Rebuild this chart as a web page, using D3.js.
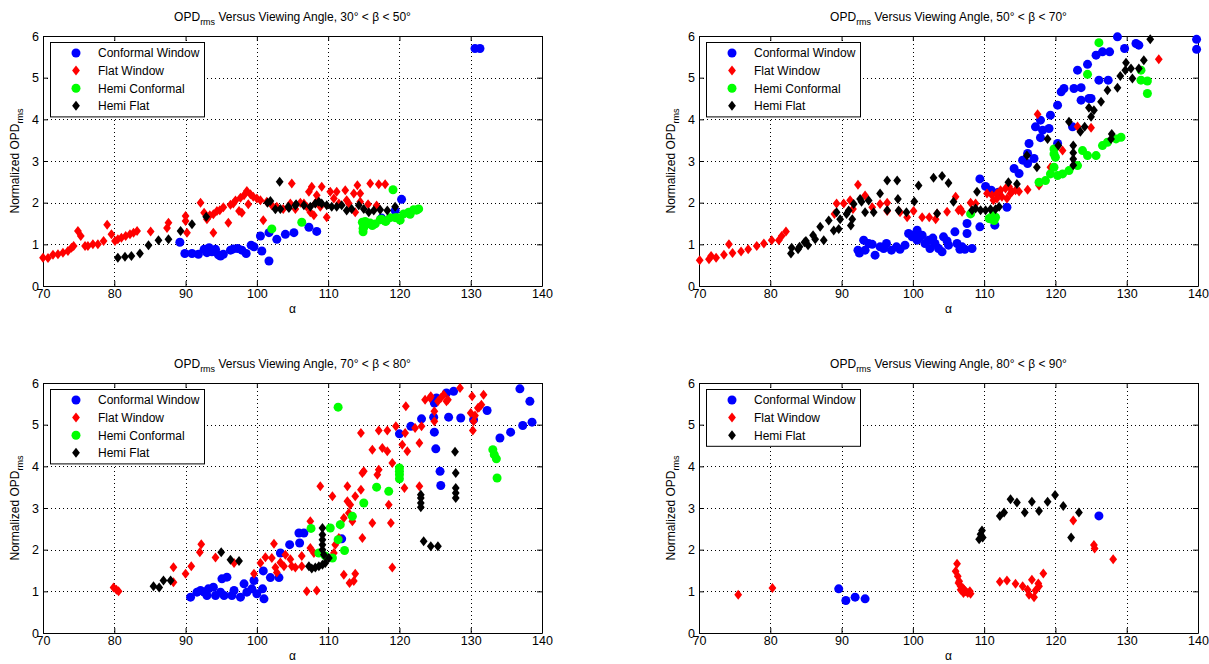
<!DOCTYPE html>
<html>
<head>
<meta charset="utf-8">
<script src="https://cdn.jsdelivr.net/npm/d3@7"></script>
<style>
html, body { margin: 0; padding: 0; background: #fff; }
svg { display: block; }
text { font-family: "Liberation Sans", Arial, Helvetica, sans-serif; fill: #000; }
</style>
</head>
<body>
<svg id="fig" width="1209" height="664"></svg>
<script>
// ---- axis ticks and labels ----
const alphaTicks = [70, 80, 90, 100, 110, 120, 130, 140];
const opdTicks = [0, 1, 2, 3, 4, 5, 6];
const seriesNames = ["Conformal Window", "Flat Window", "Hemi Conformal", "Hemi Flat"];
const betaRanges = ["30° < β < 50°", "50° < β < 70°", "70° < β < 80°", "80° < β < 90°"];

// ---- 30° < β < 50° : [alpha, normalized OPDrms] ----
const conf1 = [[89.2,1.05],[89.9,0.78],[90.9,0.78],[91.8,0.76],[92.6,0.88],[93.0,0.8],[93.3,0.92],[93.7,0.82],[94.2,0.88],[94.6,0.75],[94.9,0.72],[95.3,0.76],[96.3,0.86],[96.7,0.89],[97.3,0.9],[97.9,0.86],[98.5,0.78],[99.2,0.98],[99.6,0.94],[100.5,1.2],[100.7,0.84],[101.7,0.6],[101.7,1.28],[102.8,1.12],[104.0,1.24],[105.2,1.28],[107.3,1.41],[108.4,1.31],[117.5,1.63],[119.4,1.81],[120.3,2.08],[130.6,5.7],[131.3,5.7]];
const flat1 = [[70.0,0.68],[70.7,0.67],[71.4,0.75],[72.1,0.76],[72.8,0.8],[73.5,0.84],[74.0,0.92],[74.3,0.96],[74.9,1.32],[75.3,1.2],[75.9,0.96],[76.3,0.96],[77.0,1.0],[77.7,1.0],[78.5,1.08],[79.0,1.47],[79.6,1.24],[80.1,1.08],[80.5,1.12],[81.0,1.16],[81.6,1.2],[82.2,1.24],[82.7,1.28],[83.2,1.32],[85.1,1.31],[87.4,1.39],[87.6,1.52],[90.0,1.68],[90.0,1.56],[90.2,1.28],[92.1,2.0],[92.6,1.76],[93.0,1.6],[93.9,1.28],[93.4,1.7],[93.9,1.72],[94.4,1.8],[94.8,1.82],[95.3,1.89],[96.0,1.52],[96.3,1.95],[96.7,1.98],[97.0,2.05],[97.5,1.8],[97.7,2.12],[97.9,1.76],[98.2,2.18],[98.6,2.28],[98.8,1.96],[99.1,2.2],[99.5,2.14],[100.0,2.1],[100.5,2.06],[100.9,1.58],[101.4,2.02],[102.1,1.94],[102.8,1.9],[103.7,1.85],[104.9,2.46],[104.7,1.98],[105.4,1.85],[106.1,2.0],[106.6,1.98],[107.0,1.9],[107.3,2.26],[107.5,1.77],[107.7,2.38],[108.0,1.7],[108.2,1.98],[108.4,2.18],[108.5,2.05],[108.9,1.9],[109.1,2.38],[109.8,1.65],[110.3,2.26],[110.8,2.1],[111.2,2.26],[111.5,1.98],[112.4,2.3],[112.6,2.06],[112.9,1.98],[113.6,2.22],[113.8,1.77],[114.1,2.42],[114.5,2.22],[114.5,2.02],[115.6,1.96],[115.9,2.46],[116.8,1.93],[117.1,2.44],[118.0,2.44]];
const hemiConf1 = [[102.1,1.37],[106.3,1.53],[114.8,1.53],[114.9,1.3],[115.0,1.41],[114.9,1.38],[115.2,1.55],[115.5,1.49],[115.9,1.51],[116.2,1.45],[116.6,1.49],[117.3,1.59],[117.5,1.6],[118.0,1.56],[118.1,1.55],[118.7,1.64],[119.1,2.31],[119.4,1.64],[119.7,1.64],[120.1,1.58],[120.6,1.73],[121.3,1.77],[121.5,1.72],[122.0,1.83],[122.4,1.82],[122.7,1.85]];
const hemiFlat1 = [[80.5,0.68],[81.5,0.7],[82.4,0.72],[83.6,0.78],[84.8,0.98],[86.2,1.1],[87.6,1.12],[89.3,1.32],[90.9,1.48],[92.9,1.66],[101.5,2.0],[101.9,2.04],[103.2,2.5],[102.6,1.84],[103.3,1.85],[104.4,1.9],[104.5,1.87],[105.4,1.93],[105.5,1.96],[106.6,1.94],[107.5,1.9],[108.2,1.98],[108.7,2.02],[109.1,1.98],[109.8,1.94],[110.5,1.9],[111.2,1.9],[111.9,1.94],[112.6,1.81],[113.3,1.85],[114.3,1.94],[115.0,1.85],[115.7,1.77],[116.4,1.81],[117.3,1.83],[118.3,1.81],[119.4,1.9]];

// ---- 50° < β < 70° ----
const conf2 = [[92.3,0.86],[92.5,0.79],[93.1,1.1],[93.3,0.86],[93.8,1.02],[94.3,1.0],[94.7,0.74],[95.4,0.94],[95.9,0.9],[96.3,1.02],[97.0,0.86],[97.7,0.94],[98.2,0.88],[98.9,0.98],[99.4,1.26],[99.9,1.18],[100.1,1.22],[100.6,1.34],[100.6,1.1],[101.0,1.18],[101.3,1.22],[101.7,1.02],[102.2,1.1],[102.4,0.9],[102.8,1.15],[103.1,1.02],[103.6,0.9],[104.1,0.82],[104.3,1.18],[104.8,1.08],[105.0,0.98],[105.9,1.3],[106.2,1.02],[106.6,0.88],[106.9,0.94],[107.3,0.88],[107.6,1.26],[107.6,1.5],[108.3,0.9],[109.4,1.42],[109.4,2.57],[110.2,2.39],[111.0,2.3],[111.5,1.46],[112.0,2.25],[113.2,1.89],[114.2,2.82],[114.9,2.7],[115.4,3.02],[116.1,3.18],[116.1,2.94],[116.3,3.42],[117.0,3.06],[117.2,3.82],[117.9,3.98],[117.9,3.56],[118.2,3.74],[119.1,3.78],[119.3,4.1],[120.3,4.34],[120.3,3.42],[120.8,4.66],[121.2,4.74],[122.4,3.82],[122.6,4.74],[123.1,5.18],[123.6,4.46],[123.6,4.76],[124.5,5.32],[124.7,4.5],[125.0,4.5],[125.7,5.54],[126.1,4.94],[126.6,5.62],[127.4,4.94],[127.6,5.62],[128.7,5.98],[129.7,5.7],[131.3,5.82],[131.7,5.78],[139.8,5.92],[139.8,5.68]];
const flat2 = [[70.1,0.62],[71.4,0.64],[71.7,0.72],[72.4,0.68],[73.5,0.75],[74.2,1.0],[74.7,0.79],[75.9,0.83],[76.9,0.88],[78.1,0.96],[79.1,1.02],[80.2,1.1],[81.2,1.1],[81.6,1.2],[82.2,1.31],[89.0,1.73],[89.3,1.98],[90.3,1.98],[91.2,2.06],[91.6,1.85],[92.3,2.43],[93.3,2.17],[94.3,1.89],[95.4,1.97],[96.4,2.0],[96.4,1.8],[98.2,1.77],[99.2,1.65],[100.1,1.8],[101.3,1.65],[102.3,1.65],[103.2,1.6],[103.4,1.74],[104.8,1.78],[106.0,2.14],[106.4,1.82],[106.7,1.85],[106.9,1.78],[108.1,2.0],[108.8,1.98],[110.4,2.22],[111.1,2.18],[111.3,2.06],[111.8,2.22],[111.8,2.1],[112.3,2.3],[112.5,2.14],[113.0,2.34],[113.2,2.1],[113.5,2.38],[113.7,2.22],[113.9,2.26],[114.4,2.3],[114.9,2.27],[116.1,2.31],[117.5,4.12],[117.7,2.41],[119.3,2.85],[121.0,3.25],[123.1,3.83],[125.0,3.8],[134.5,5.44]];
const hemiConf2 = [[108.1,1.73],[110.7,1.62],[110.9,1.61],[111.4,1.57],[111.6,1.65],[111.2,1.7],[117.7,2.49],[118.6,2.53],[119.3,2.69],[119.8,2.85],[120.0,3.09],[119.8,3.29],[119.8,3.17],[120.3,2.65],[121.0,2.69],[121.9,2.77],[123.1,2.89],[123.8,3.25],[124.5,3.13],[125.7,3.13],[126.6,3.37],[127.3,3.45],[128.5,3.53],[129.2,3.57],[124.5,5.08],[126.1,5.84],[132.0,5.18],[132.0,4.94],[132.9,4.92],[132.9,4.62]];
const hemiFlat2 = [[82.9,0.78],[83.0,0.92],[83.9,0.88],[84.1,0.94],[84.8,1.05],[85.0,1.08],[85.3,0.98],[86.0,1.22],[86.3,1.12],[87.0,1.42],[87.5,1.1],[88.2,1.57],[88.9,1.33],[89.6,1.37],[89.3,1.77],[89.8,1.6],[90.7,1.73],[91.0,1.81],[91.3,1.45],[91.5,1.6],[91.7,1.97],[92.6,2.09],[92.8,2.02],[93.3,1.77],[93.8,2.05],[94.5,1.77],[95.4,2.22],[96.4,2.53],[96.4,1.82],[97.8,2.53],[97.9,2.09],[98.0,1.81],[99.1,1.77],[100.2,2.03],[100.8,2.41],[102.9,2.6],[103.4,1.74],[104.1,2.64],[105.0,2.47],[105.7,2.02],[108.3,1.82],[108.8,1.86],[109.0,2.26],[109.5,1.82],[110.2,1.82],[110.9,1.84],[111.6,1.84],[112.1,1.9],[113.4,2.49],[114.6,2.45],[116.0,3.13],[117.4,2.85],[118.9,3.53],[120.4,3.37],[121.9,3.94],[122.5,3.37],[122.5,3.2],[122.5,3.05],[122.5,2.9],[123.5,3.7],[124.1,3.82],[124.7,4.28],[125.0,4.06],[125.4,4.22],[126.4,4.42],[127.3,4.7],[127.8,3.53],[127.9,3.65],[128.7,4.76],[129.1,5.04],[129.8,5.18],[129.9,5.36],[130.6,5.22],[130.8,4.98],[131.7,5.22],[132.4,5.42],[133.3,5.92]];

// ---- 70° < β < 80° ----
const conf3 = [[90.7,0.86],[91.6,0.98],[92.1,1.02],[92.6,0.98],[93.0,0.9],[93.2,1.06],[93.9,1.1],[94.2,0.9],[94.9,0.98],[95.1,1.3],[95.4,0.9],[95.8,1.34],[96.5,0.9],[96.8,1.02],[97.7,0.86],[98.2,1.18],[98.6,0.98],[99.3,1.06],[99.6,1.26],[100.0,0.94],[100.8,1.06],[101.0,0.82],[100.9,1.49],[101.9,1.33],[103.1,1.33],[103.3,1.92],[104.6,2.12],[105.9,2.4],[106.0,2.16],[106.6,2.4],[111.9,2.26],[120.0,4.78],[121.6,4.96],[123.1,5.14],[124.8,5.18],[124.9,5.52],[124.9,4.82],[125.1,4.42],[125.2,5.64],[125.7,3.88],[125.8,3.54],[126.6,5.76],[126.9,5.18],[127.6,5.8],[128.6,5.16],[130.4,5.12],[132.3,5.34],[134.1,4.68],[135.6,4.82],[136.9,5.86],[137.3,4.98],[138.3,5.56],[138.6,5.06]];
const flat3 = [[79.9,1.09],[80.3,1.04],[80.6,1.0],[88.3,1.58],[88.3,1.22],[90.0,1.42],[90.8,1.6],[92.0,1.94],[92.2,2.13],[94.2,1.81],[96.8,1.68],[99.6,1.42],[100.5,1.68],[101.2,1.82],[102.1,1.8],[102.4,2.14],[102.6,1.57],[102.8,1.45],[103.3,1.69],[103.8,1.6],[104.0,1.88],[104.7,1.77],[104.9,1.6],[105.4,1.57],[106.3,1.85],[106.3,1.6],[107.0,1.0],[107.5,2.04],[107.5,2.68],[108.0,1.92],[108.4,1.02],[108.9,3.52],[110.6,3.28],[110.8,1.92],[111.0,2.12],[111.5,2.28],[111.7,2.6],[112.2,2.76],[112.2,1.4],[112.7,3.52],[112.7,3.16],[112.9,2.88],[113.0,1.2],[113.1,3.08],[113.4,2.68],[113.6,1.25],[113.8,1.42],[113.8,3.28],[114.6,3.44],[114.6,4.8],[114.8,3.84],[114.8,2.28],[115.0,3.88],[116.2,4.4],[116.2,2.64],[116.9,3.8],[117.1,3.92],[117.1,4.86],[117.6,4.44],[118.3,4.36],[118.3,4.86],[118.5,3.08],[118.8,2.64],[119.0,4.08],[119.0,1.57],[119.5,4.96],[120.4,4.52],[120.7,3.48],[120.8,4.8],[120.9,5.44],[121.1,4.36],[122.2,4.92],[122.8,4.56],[122.8,3.52],[123.1,4.96],[123.6,5.6],[124.3,5.64],[124.4,5.68],[124.9,5.32],[124.9,5.08],[125.4,5.56],[125.8,5.64],[126.2,5.72],[126.6,5.56],[126.8,5.6],[128.5,5.88],[130.0,5.28],[130.2,5.68],[130.3,4.86],[130.4,5.08],[130.6,5.22],[131.0,5.4],[131.2,5.42],[131.5,5.48],[131.8,5.72]];
const hemiConf3 = [[107.6,2.51],[108.7,1.92],[109.6,1.85],[110.3,2.52],[110.6,1.8],[111.4,5.42],[111.4,2.24],[111.7,2.6],[112.3,1.98],[113.4,2.8],[115.0,3.12],[116.8,3.5],[118.5,3.4],[120.0,3.96],[120.0,3.88],[120.0,3.8],[120.0,3.7],[133.1,4.4],[133.3,4.28],[133.6,4.18],[133.7,3.72]];
const hemiFlat3 = [[85.5,1.12],[86.3,1.09],[86.9,1.26],[87.9,1.26],[95.0,1.94],[96.3,1.76],[97.5,1.73],[107.3,1.6],[107.7,1.55],[108.2,1.57],[108.7,1.6],[109.2,1.64],[109.6,1.68],[110.1,1.8],[109.2,2.52],[109.2,2.36],[109.2,2.24],[109.2,2.12],[109.2,2.0],[109.4,1.88],[123.0,3.32],[123.0,3.24],[123.0,3.12],[123.0,3.02],[123.4,2.2],[124.4,2.08],[125.4,2.08],[127.8,4.35],[127.9,3.84],[127.9,3.48],[127.9,3.36],[127.9,3.24]];

// ---- 80° < β < 90° ----
const conf4 = [[89.6,1.06],[90.6,0.78],[91.9,0.86],[93.3,0.82],[126.1,2.81]];
const flat4 = [[75.5,0.92],[80.3,1.08],[106.2,1.66],[106.0,1.48],[106.3,1.36],[106.4,1.2],[106.5,1.24],[106.7,1.12],[106.7,1.04],[107.0,1.08],[107.1,0.96],[107.2,1.04],[107.4,1.0],[107.7,0.96],[108.0,1.0],[108.1,0.94],[112.2,1.23],[113.2,1.26],[114.4,1.18],[115.4,1.12],[116.1,1.04],[116.3,0.92],[116.7,1.28],[117.0,0.86],[117.2,1.02],[117.6,1.19],[117.7,1.12],[118.3,1.43],[122.5,2.7],[125.4,2.11],[125.5,2.03],[128.1,1.77]];
const hemiConf4 = [];
const hemiFlat4 = [[109.3,2.25],[109.5,2.37],[109.7,2.46],[109.8,2.29],[112.2,2.81],[112.8,2.89],[113.7,3.21],[114.6,3.13],[115.7,2.89],[116.7,3.15],[117.7,2.93],[118.9,3.15],[119.95,3.31],[121.1,3.05],[122.2,2.29],[123.3,2.89]];

// ---- marker styles, one per series ----
const markerStyles = [
  { color: "#0000ff", shape: "circle" },
  { color: "#ff0000", shape: "diamond" },
  { color: "#00ff00", shape: "circle" },
  { color: "#000000", shape: "diamond" }
];

const panels = [
  { range: betaRanges[0], data: [conf1, flat1, hemiConf1, hemiFlat1], legend: [0, 1, 2, 3], left: 43,  top: 36 },
  { range: betaRanges[1], data: [conf2, flat2, hemiConf2, hemiFlat2], legend: [0, 1, 2, 3], left: 699, top: 36 },
  { range: betaRanges[2], data: [conf3, flat3, hemiConf3, hemiFlat3], legend: [0, 1, 2, 3], left: 43,  top: 383 },
  { range: betaRanges[3], data: [conf4, flat4, hemiConf4, hemiFlat4], legend: [0, 1, 3],    left: 699, top: 383 }
];

const W = 499, H = 250;
const svg = d3.select("#fig");

const diamondPath = "M0,-5L3.9,0L0,5L-3.9,0Z";

function drawMarker(sel, style) {
  if (style.shape === "circle") {
    sel.append("circle").attr("r", 4.5).attr("fill", style.color);
  } else {
    sel.append("path").attr("d", diamondPath).attr("fill", style.color);
  }
}

panels.forEach(p => {
  const g = svg.append("g").attr("transform", `translate(${p.left},${p.top})`);
  const x = d3.scaleLinear().domain([70, 140]).range([0, W]);
  const y = d3.scaleLinear().domain([0, 6]).range([H, 0]);

  // dotted grid
  const grid = g.append("g").attr("stroke", "#000").attr("stroke-width", 1)
    .attr("stroke-dasharray", "1,3");
  grid.selectAll(".gx").data(alphaTicks.slice(1, -1)).join("line")
    .attr("x1", d => Math.round(x(d)) + 0.5).attr("x2", d => Math.round(x(d)) + 0.5)
    .attr("y1", 0).attr("y2", H);
  grid.selectAll(".gy").data(opdTicks.slice(1, -1)).join("line")
    .attr("y1", d => Math.round(y(d)) + 0.5).attr("y2", d => Math.round(y(d)) + 0.5)
    .attr("x1", 0).attr("x2", W);

  // axes with inward ticks
  const axB = g.append("g").attr("transform", `translate(0,${H})`)
    .call(d3.axisBottom(x).tickValues(alphaTicks).tickFormat(d3.format("d"))
      .tickSizeInner(-5).tickSizeOuter(0).tickPadding(3));
  const axL = g.append("g")
    .call(d3.axisLeft(y).tickValues(opdTicks).tickFormat(d3.format("d"))
      .tickSizeInner(-5).tickSizeOuter(0).tickPadding(4));
  g.append("g").call(d3.axisTop(x).tickValues(alphaTicks).tickSizeInner(-5).tickSizeOuter(0).tickFormat(""));
  g.append("g").attr("transform", `translate(${W},0)`)
    .call(d3.axisRight(y).tickValues(opdTicks).tickSizeInner(-5).tickSizeOuter(0).tickFormat(""));
  g.selectAll(".domain").attr("stroke", "#000");
  g.selectAll(".tick line").attr("stroke", "#000");
  [axB, axL].forEach(a => a.selectAll("text")
    .style("font-family", '"Liberation Sans", Arial, sans-serif')
    .style("font-size", "12.5px").attr("fill", "#000"));

  // data markers
  p.data.forEach((pts, si) => {
    const st = markerStyles[si];
    const sg = g.append("g");
    pts.forEach(d => {
      const m = sg.append("g").attr("transform", `translate(${x(d[0])},${y(d[1])})`);
      drawMarker(m, st);
    });
  });

  // title
  const t = g.append("text").attr("x", W / 2).attr("y", -15)
    .attr("text-anchor", "middle").style("font-size", "12px");
  t.append("tspan").text("OPD");
  t.append("tspan").attr("dy", 4).style("font-size", "9px").text("rms");
  t.append("tspan").attr("dy", -4).text(" Versus Viewing Angle, " + p.range);

  // axis labels
  g.append("text").attr("x", W / 2).attr("y", H + 27)
    .attr("text-anchor", "middle").style("font-size", "12px").text("α");
  const yl = g.append("text").attr("transform", `translate(-24,${H / 2}) rotate(-90)`)
    .attr("text-anchor", "middle").style("font-size", "12px");
  yl.append("tspan").text("Normalized OPD");
  yl.append("tspan").attr("dy", 4).style("font-size", "9px").text("rms");

  // legend
  const lx = 7, ly = 6, rowH = 17.6;
  const lg = g.append("g").attr("transform", `translate(${lx},${ly})`);
  lg.append("rect").attr("x", 0.5).attr("y", 0.5).attr("width", 154)
    .attr("height", p.legend.length * rowH + 4)
    .attr("fill", "#fff").attr("stroke", "#000").attr("stroke-width", 1);
  p.legend.forEach((si, i) => {
    const cy = 11 + i * rowH;
    const m = lg.append("g").attr("transform", `translate(26,${cy})`);
    drawMarker(m, markerStyles[si]);
    lg.append("text").attr("x", 48).attr("y", cy + 4.3)
      .style("font-size", "12px").text(seriesNames[si]);
  });
});
</script>
</body>
</html>
